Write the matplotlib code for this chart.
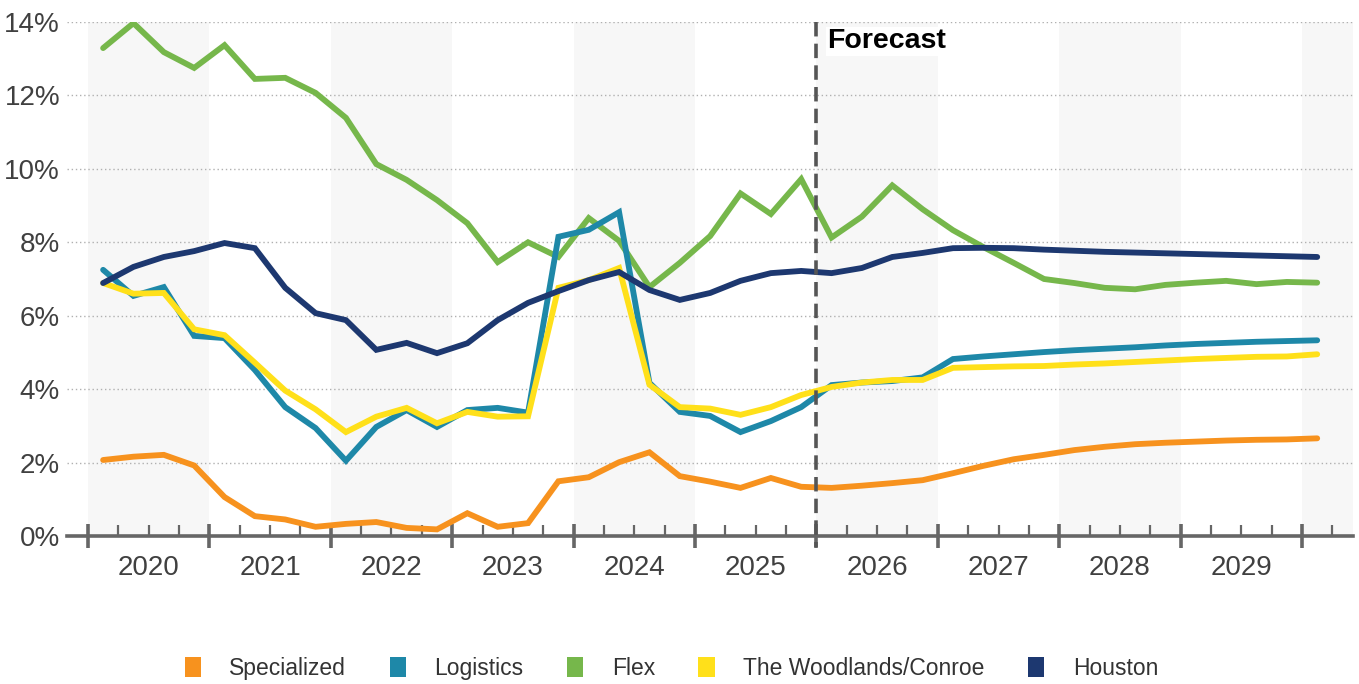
import numpy as np
import matplotlib.pyplot as plt
from matplotlib.patches import Patch
from matplotlib.transforms import blended_transform_factory

plt.rcParams['font.family'] = ['Liberation Sans', 'DejaVu Sans']

# quarterly vacancy, 2020 Q1 .. 2030 Q1 (forecast from 2026)
years = [2020, 2021, 2022, 2023, 2024, 2025, 2026, 2027, 2028, 2029]

specialized = [2.07, 2.16, 2.21, 1.92, 1.06, 0.54, 0.45, 0.25, 0.33, 0.38,
               0.22, 0.18, 0.62, 0.25, 0.35, 1.49, 1.60, 2.01, 2.28, 1.63,
               1.48, 1.31, 1.58, 1.34, 1.31, 1.37, 1.44, 1.52, 1.71, 1.91,
               2.09, 2.21, 2.34, 2.43, 2.50, 2.54, 2.57, 2.60, 2.62, 2.63, 2.66]
logistics = [7.25, 6.54, 6.78, 5.45, 5.39, 4.52, 3.51, 2.94, 2.05, 2.97,
             3.43, 2.97, 3.43, 3.49, 3.36, 8.15, 8.34, 8.82, 4.17, 3.38,
             3.27, 2.83, 3.13, 3.51, 4.11, 4.18, 4.22, 4.32, 4.82, 4.89,
             4.95, 5.01, 5.06, 5.10, 5.14, 5.19, 5.23, 5.26, 5.29, 5.31, 5.33]
flex = [13.29, 13.97, 13.18, 12.75, 13.37, 12.45, 12.48, 12.07, 11.39, 10.13,
        9.70, 9.15, 8.52, 7.46, 8.00, 7.60, 8.66, 8.04, 6.78, 7.44,
        8.17, 9.33, 8.77, 9.72, 8.13, 8.70, 9.55, 8.90, 8.33, 7.87,
        7.44, 7.00, 6.89, 6.76, 6.72, 6.84, 6.90, 6.95, 6.86, 6.92, 6.90]
woodlands = [6.89, 6.60, 6.62, 5.63, 5.47, 4.72, 3.96, 3.45, 2.83, 3.25,
             3.49, 3.07, 3.38, 3.25, 3.26, 6.76, 6.97, 7.30, 4.12, 3.51,
             3.47, 3.30, 3.51, 3.84, 4.06, 4.18, 4.25, 4.25, 4.58, 4.60,
             4.62, 4.63, 4.67, 4.70, 4.74, 4.78, 4.82, 4.85, 4.88, 4.89, 4.95]
houston = [6.89, 7.33, 7.60, 7.76, 7.98, 7.84, 6.76, 6.07, 5.88, 5.07,
           5.26, 4.98, 5.25, 5.88, 6.35, 6.67, 6.97, 7.19, 6.70, 6.43,
           6.62, 6.95, 7.16, 7.22, 7.16, 7.30, 7.60, 7.71, 7.84, 7.85,
           7.84, 7.80, 7.77, 7.74, 7.72, 7.70, 7.68, 7.66, 7.64, 7.62, 7.60]

series = [
    ('Specialized', specialized, '#F7921E'),
    ('Logistics', logistics, '#1E88A8'),
    ('Flex', flex, '#76B74B'),
    ('The Woodlands/Conroe', woodlands, '#FFE01A'),
    ('Houston', houston, '#1D3870'),
]

x = np.arange(len(houston))
x_min, x_max = -1.19, 41.18
forecast_at = 23.5

fig = plt.figure(figsize=(13.59, 6.84), dpi=100)
ax = fig.add_axes([0.0493, 0.2164, 0.9463, 0.7514])
ax.set_xlim(x_min, x_max)
ax.set_ylim(0, 14)

# alternating year bands
for k in range(0, 11, 2):
    ax.axvspan(-0.5 + 4 * k, min(3.5 + 4 * k, x_max), color='#F7F7F7', lw=0, zorder=0)

for v in range(2, 15, 2):
    ax.axhline(v, color='#B0B0B0', lw=1, ls=(0, (1, 2)), zorder=1)

# lines drawn back to front so Houston sits on top
order = [2, 0, 1, 3, 4]
for i in order:
    name, vals, col = series[i]
    ax.plot(x, vals, color=col, lw=4.2, solid_capstyle='round',
            solid_joinstyle='miter', zorder=3)

ax.plot([forecast_at, forecast_at], [14, -0.3], color='#555555', lw=2.6,
        ls=(0, (4, 2)), zorder=4, clip_on=False)
ax.text(forecast_at + 0.35, 13.48, 'Forecast', fontsize=20.5, fontweight='bold',
        color='black', va='center', ha='left', zorder=5,
        bbox=dict(facecolor='white', edgecolor='none', pad=1))

for s in ['top', 'right', 'left']:
    ax.spines[s].set_visible(False)
ax.spines['bottom'].set_color('#666666')
ax.spines['bottom'].set_linewidth(2.6)

ax.set_yticks(range(0, 15, 2))
ax.set_yticklabels([f'{v}%' for v in range(0, 15, 2)], fontsize=20, color='#404040')
ax.tick_params(axis='y', length=0, pad=5)

ax.set_xticks([-0.5 + 4 * k for k in range(11)])
ax.set_xticklabels([])
ax.set_xticks([-0.5 + q for q in range(1, 42) if q % 4 != 0], minor=True)
ax.tick_params(axis='x', which='major', direction='inout', length=17,
               width=2.6, color='#666666')
ax.tick_params(axis='x', which='minor', direction='in', length=8,
               width=1.6, color='#666666')

trans = blended_transform_factory(ax.transData, ax.transAxes)
for k, yr in enumerate(years):
    ax.text(1.5 + 4 * k, -0.062, str(yr), transform=trans, ha='center',
            va='center', fontsize=20, color='#404040')

handles = [Patch(facecolor=c, edgecolor='none', label=n) for n, _, c in series]
fig.legend(handles=handles, loc='center', bbox_to_anchor=(0.494, 0.023),
           ncol=5, frameon=False, fontsize=16.5, handlelength=0.7,
           handleheight=1.0, handletextpad=1.25, columnspacing=1.9,
           labelcolor='#333333')

fig.savefig('out.png', dpi=100)
